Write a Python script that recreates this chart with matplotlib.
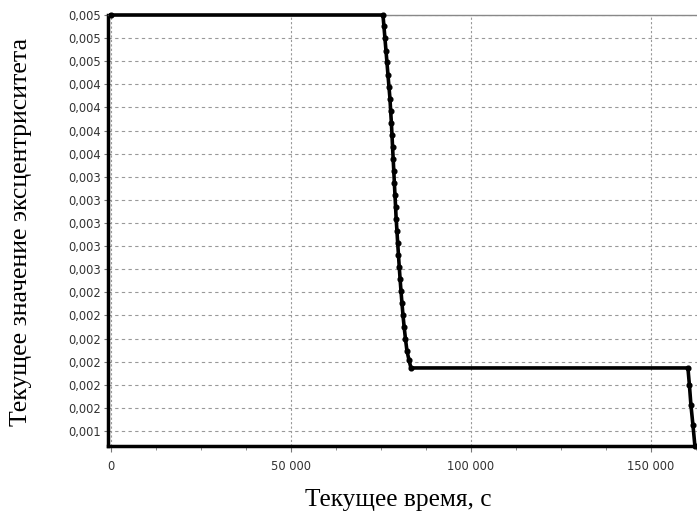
import numpy as np
import matplotlib.pyplot as plt
from matplotlib.ticker import FixedLocator, FixedFormatter, MultipleLocator

# данные: время, с и эксцентриситет
t_data = [0, 75560, 75830, 76110, 76390, 76670, 76940, 77220, 77500, 77690,
          77890, 78060, 78220, 78390, 78560, 78720, 78890, 79060, 79220,
          79440, 79640, 79860, 80080, 80310, 80560, 80830, 81110, 81440,
          81810, 82220, 82780, 83330,
          160280, 160690, 161110, 161670, 162220]
e_data = [0.00506, 0.00506, 0.004951, 0.004837, 0.004722, 0.004608, 0.004493,
          0.004379, 0.004265, 0.00415, 0.004036, 0.003921, 0.003807, 0.003693,
          0.003578, 0.003464, 0.00335, 0.003235, 0.003121, 0.003006, 0.002892,
          0.002778, 0.002663, 0.002549, 0.002434, 0.00232, 0.002206, 0.002091,
          0.001977, 0.001863, 0.001777, 0.0017,
          0.0017, 0.001538, 0.001348, 0.001157, 0.000957]

y_ticks = [0.0011 + 0.00022 * i for i in range(19)]
y_labels = ["0,001", "0,002", "0,002", "0,002", "0,002", "0,002", "0,002",
            "0,003", "0,003", "0,003", "0,003", "0,003",
            "0,004", "0,004", "0,004", "0,004",
            "0,005", "0,005", "0,005"]
x_ticks = [0, 50000, 100000, 150000]
x_labels = ["0", "50 000", "100 000", "150 000"]

fig = plt.figure(figsize=(6.97, 5.18), dpi=100)
ax = fig.add_axes([108 / 697, 1 - 446 / 518, 1 - 108 / 697, (446 - 15) / 518])

ax.plot(t_data, e_data, color="black", lw=2.6, marker="o", ms=3.4,
        clip_on=False, zorder=5)

ax.set_xlim(-830, 162800)
ax.set_ylim(0.0011 - 15 / 23.08 * 0.00022, y_ticks[-1])

ax.xaxis.set_major_locator(FixedLocator(x_ticks))
ax.xaxis.set_major_formatter(FixedFormatter(x_labels))
ax.xaxis.set_minor_locator(MultipleLocator(12500))
ax.yaxis.set_major_locator(FixedLocator(y_ticks))
ax.yaxis.set_major_formatter(FixedFormatter(y_labels))

ax.tick_params(axis="both", which="both", direction="out", color="#777777",
               labelcolor="#333333", labelsize=8.3)
ax.tick_params(axis="x", which="major", length=4, pad=6)
ax.tick_params(axis="x", which="minor", length=3)
ax.tick_params(axis="y", length=3, pad=2)

ax.grid(axis="y", color="#999999", linestyle=(0, (3, 3)), lw=0.8)
ax.grid(axis="x", color="#999999", linestyle=(0, (2, 2)), lw=0.8)

for s in ["left", "bottom"]:
    ax.spines[s].set_linewidth(2.5)
    ax.spines[s].set_color("black")
ax.spines["top"].set_color("#888888")
ax.spines["top"].set_linewidth(1)
ax.spines["right"].set_visible(False)

fig.text(398 / 697, 1 - 500 / 518, "Текущее время, с", family="Liberation Serif",
         fontsize=18.3, ha="center", va="center")
fig.text(21 / 697, 1 - 232 / 518, "Текущее значение эксцентриситета",
         family="Liberation Serif", fontsize=18.5, ha="center", va="center",
         rotation=90)

plt.savefig("out.png", dpi=100)
